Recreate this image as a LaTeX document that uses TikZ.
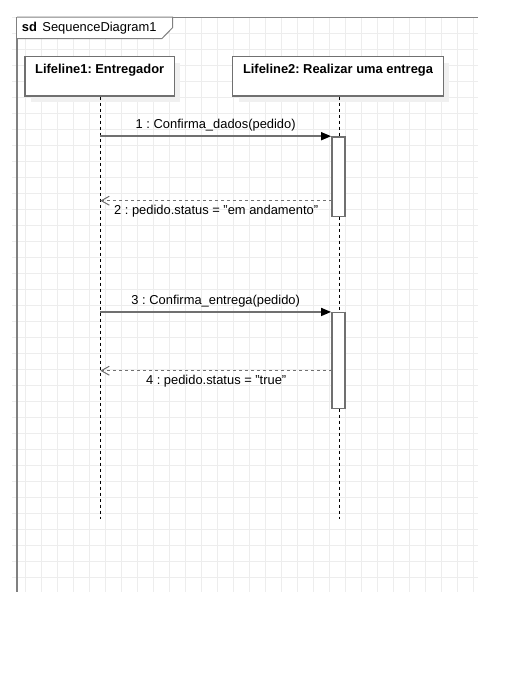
\documentclass[tikz,border=0pt]{standalone}
\usepackage{fontspec}
\setmainfont{Liberation Sans}
\usetikzlibrary{arrows.meta,shadows}
\frenchspacing

\definecolor{gridgray}{HTML}{EDEDED}
\definecolor{framegray}{HTML}{808080}
\definecolor{boxgray}{HTML}{707070}
\definecolor{shadegray}{HTML}{F0F0F0}

\begin{document}
\begin{tikzpicture}[x=1pt,y=-1pt,font=\fontsize{12.9}{15}\selectfont,
		gridline/.style={draw=gridgray,line width=1pt},
		frame/.style={draw=framegray,line width=1pt},
		lifebox/.style={draw=boxgray,line width=1.5pt,fill=white,font=\fontsize{12.9}{15}\selectfont\bfseries,
			minimum height=39.3pt,inner xsep=0pt,inner ysep=7.3pt,text height=10pt,text depth=14.7pt,
			drop shadow={shadow xshift=6pt,shadow yshift=-6pt,draw=none,fill=shadegray,opacity=1}},
		activation/.style={draw=boxgray,line width=1.5pt,fill=white,inner sep=0pt,minimum width=13.3pt},
		lifeline/.style={draw=black,line width=1pt,dash pattern=on 3pt off 3pt},
		call/.style={draw=boxgray,line width=1.5pt,-{Triangle[length=10pt,width=8pt,color=black]}},
		reply/.style={draw=boxgray,line width=1.5pt,dash pattern=on 3pt off 3pt,
			-{Straight Barb[length=8pt,width=9pt,line width=1pt]}}]
	\useasboundingbox (0,0) rectangle (513,683);

	% background grid
	\foreach \i in {0,...,28}
		\draw[gridline] (25.3+16*\i,17) -- (25.3+16*\i,591.7);
	\foreach \j in {0,...,35}
		\draw[gridline] (12,17.3+16*\j) -- (477.7,17.3+16*\j);

	% frame
	\draw[frame] (17,17) -- (477.7,17);
	\draw[frame,line width=2pt] (16.7,16.5) -- (16.7,591.7);
	\draw[frame,fill=white] (17,17) -- (172.7,17) -- (172.7,27.5) -- (162,38.5) -- (17,38.5);
	\node[anchor=base west,inner sep=0pt] (sd) at (21.7,31.7) {\textbf{sd}\hspace{5.5pt}SequenceDiagram1};

	% lifelines
	\node[lifebox,minimum width=149.3pt] (lf1) at (99.7,76.3)  {Lifeline1: Entregador};
	\node[lifebox,minimum width=210.6pt] (lf2) at (338,76.3)   {Lifeline2: Realizar uma entrega};
	\coordinate (e1) at (100.3,519);
	\coordinate (e2) at (339.3,519);
	\draw[lifeline] (lf1.south -| e1) -- (e1);
	\draw[lifeline] (lf2.south -| e2) -- (e2);

	% activations
	\node[activation,minimum height=79.7pt] (act1) at (338.5,176.8) {};
	\node[activation,minimum height=95.6pt] (act2) at (338.5,360.5) {};
	\coordinate (r1) at (332,200.7);
	\coordinate (r2) at (332,370.7);

	% messages
	\path
		(e1 |- act1.north west) edge [call]  node [above=1pt] {1 : Confirma\_dados(pedido)} (act1.north west)
		(r1) edge [reply] node [below=0.5pt] {2 : pedido.status = "em andamento"} (e1 |- r1)
		(e1 |- act2.north west) edge [call]  node [above=0.5pt] {3 : Confirma\_entrega(pedido)} (act2.north west)
		(r2) edge [reply] node [below=0pt] {4 : pedido.status = "true"} (e1 |- r2);
\end{tikzpicture}
\end{document}
